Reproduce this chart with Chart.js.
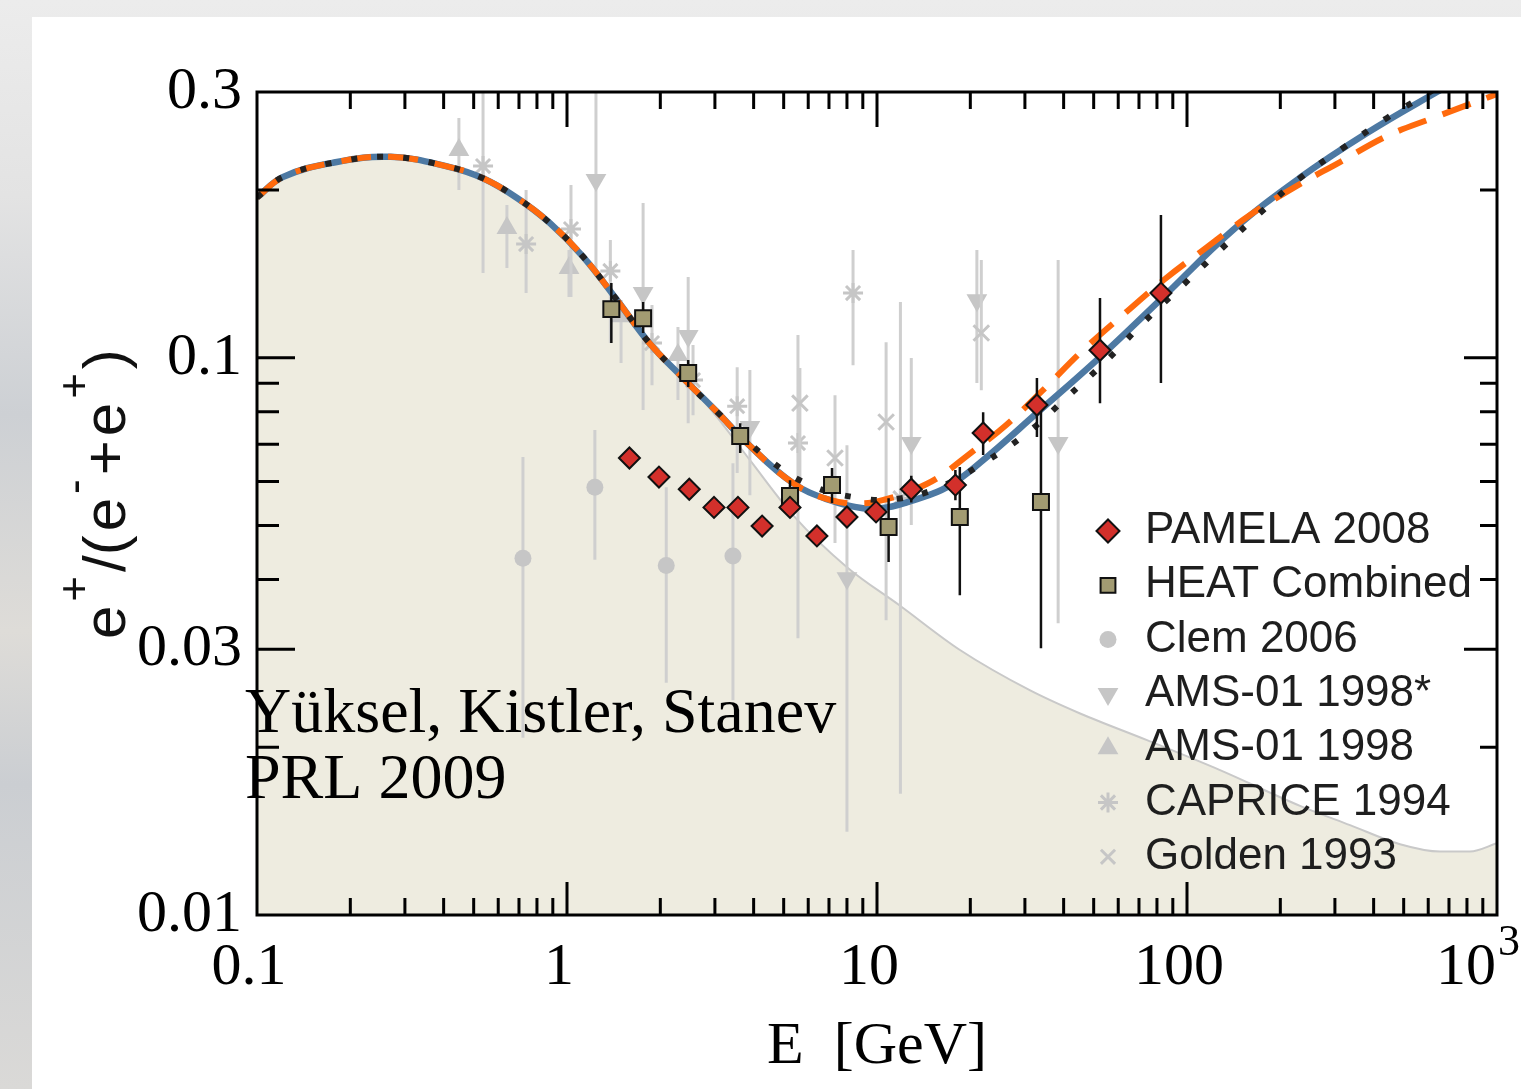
<!DOCTYPE html>
<html>
<head>
<meta charset="utf-8">
<title>Positron fraction</title>
<script src="https://cdn.jsdelivr.net/npm/chart.js@4/dist/chart.umd.min.js"></script>
<style>
  html, body { margin:0; padding:0; width:1521px; height:1089px; overflow:hidden; }
  body { position:relative; background: linear-gradient(180deg,#ececec 0%,#e3e3e3 18%,#cdd0d4 38%,#dedcd8 58%,#cbced2 72%,#dad9d7 100%); }
  #card { position:absolute; left:32px; top:17px; width:1489px; height:1072px; background:#fff; }
  #c { position:absolute; left:0; top:0; width:1521px; height:1089px; }
</style>
</head>
<body>
<div id="card"></div>
<canvas id="c" width="1521" height="1089"></canvas>
<script>
// ---------------- axis ticks ----------------
const xTickValues = [0.1, 1, 10, 100, 1000];
const xTickLabels = ['0.1', '1', '10', '100', ''];   // last one drawn as 10^3 below
const xLastBase = '10', xLastExp = '3';
const yTickValues = [0.01, 0.03, 0.1, 0.3];
const yTickLabels = ['0.01', '0.03', '0.1', '0.3'];
const yMajorMarks = [0.03, 0.1];
const yMinorMarks = [0.02, 0.04, 0.05, 0.06, 0.07, 0.08, 0.09, 0.2];

// ---------------- model curves ----------------
const blueE = [0.1, 0.121, 0.176, 0.27, 0.419, 0.536, 0.69, 0.881, 1.126, 1.45, 1.852, 2.367, 3.047, 3.807, 5.358, 7.053, 9.01, 10.77, 13.07, 16.82, 21.98, 32.8, 52.4, 81.8, 140.7, 231.5, 380.7, 640, 1000];
const blueR = [0.194, 0.211, 0.224, 0.2295, 0.220, 0.210, 0.1936, 0.1745, 0.152, 0.127, 0.106, 0.092, 0.080, 0.0703, 0.0596, 0.0555, 0.0537, 0.0539, 0.0555, 0.0586, 0.0655, 0.0796, 0.1003, 0.1269, 0.1696, 0.2105, 0.2532, 0.300, 0.345];

const orangeE = [0.1, 0.121, 0.176, 0.27, 0.419, 0.536, 0.69, 0.881, 1.126, 1.45, 1.852, 2.367, 3.047, 3.807, 5.358, 7.053, 9.01, 10.77, 12.78, 15.62, 19.66, 26.06, 34.3, 46.2, 63.1, 84.9, 116, 159.7, 219.8, 311.6, 441.8, 621.7, 1000];
const orangeR = [0.194, 0.211, 0.224, 0.2295, 0.220, 0.210, 0.1936, 0.1745, 0.152, 0.127, 0.106, 0.092, 0.080, 0.0703, 0.0596, 0.0556, 0.0548, 0.0558, 0.0576, 0.0608, 0.0669, 0.0757, 0.0875, 0.1032, 0.1203, 0.1385, 0.158, 0.1804, 0.2017, 0.2246, 0.2501, 0.2695, 0.2975];

const dotE = [0.1, 0.121, 0.176, 0.27, 0.419, 0.536, 0.69, 0.881, 1.126, 1.45, 1.852, 2.367, 3.047, 4.42, 6.08, 8.81, 11.5, 15.73, 21.98, 30.5, 41.0, 55.2, 72.1, 97.1, 127.8, 172, 231.5, 318.6, 441.8, 608, 1000];
const dotR = [0.194, 0.211, 0.224, 0.2295, 0.220, 0.210, 0.1936, 0.1745, 0.152, 0.127, 0.106, 0.092, 0.080, 0.0661, 0.0591, 0.056, 0.0558, 0.0584, 0.0647, 0.0733, 0.085, 0.0991, 0.1155, 0.1351, 0.1561, 0.1819, 0.2102, 0.238, 0.2695, 0.300, 0.357];

const bgE = [0.1, 0.121, 0.176, 0.27, 0.419, 0.536, 0.69, 0.881, 1.126, 1.45, 1.852, 2.367, 3.047, 3.893, 5.358, 8.0, 11.87, 18.52, 31.2, 45.2, 74.3, 127.8, 231.5, 335.7, 486.6, 654.9, 818, 1000];
const bgR = [0.194, 0.211, 0.224, 0.2295, 0.220, 0.210, 0.1936, 0.1745, 0.152, 0.127, 0.106, 0.092, 0.0783, 0.0655, 0.0522, 0.0421, 0.0359, 0.0299, 0.0253, 0.023, 0.0206, 0.0182, 0.0157, 0.0145, 0.0134, 0.013, 0.013, 0.01345];

// ---------------- measurements ----------------
const pamelaE  = [1.59, 1.98, 2.48, 2.98, 3.56, 4.26, 5.24, 6.40, 8.00, 9.93, 12.9, 17.9, 22.0, 32.8, 52.4, 82.4];
const pamelaR  = [0.0661, 0.0611, 0.0581, 0.0539, 0.0539, 0.0499, 0.0539, 0.0479, 0.0518, 0.0529, 0.0581, 0.0591, 0.0733, 0.0823, 0.1032, 0.1307];
const pamelaLo = [null, null, null, null, null, null, null, null, null, null, 0.0550, 0.0555, 0.0669, 0.0721, 0.0829, 0.0901];
const pamelaHi = [null, null, null, null, null, null, null, null, null, null, 0.0614, 0.0629, 0.0799, 0.0920, 0.1280, 0.1804];

const heatE  = [1.39, 1.76, 2.46, 3.62, 5.24, 7.16, 10.9, 18.5, 33.8];
const heatR  = [0.1223, 0.1178, 0.0939, 0.0724, 0.0565, 0.0591, 0.0497, 0.0518, 0.0551];
const heatLo = [0.1063, 0.1108, 0.0886, 0.0675, 0.0527, 0.0549, 0.0430, 0.0375, 0.0301];
const heatHi = [0.1363, 0.1259, 0.0991, 0.0763, 0.0603, 0.0634, 0.0560, 0.0637, 0.0806];

const clemE  = [0.721, 1.23, 2.09, 3.43];
const clemR  = [0.0437, 0.0586, 0.0424, 0.0441];
const clemLo = [0.0208, 0.0434, 0.0261, 0.0243];
const clemHi = [0.0664, 0.0742, 0.0586, 0.0647];

const amsStarE  = [1.24, 1.76, 2.46, 3.89, 8.00, 12.9, 21.0, 38.4];
const amsStarR  = [0.2085, 0.1307, 0.1094, 0.0751, 0.0402, 0.0703, 0.1269, 0.0703];
const amsStarLo = [0.142, 0.0806, 0.0763, 0.0567, 0.0141, 0.0501, 0.0901, 0.0334];
const amsStarHi = [0.300, 0.1896, 0.1397, 0.0951, 0.0697, 0.0999, 0.1561, 0.1498];

const amsE  = [0.448, 0.64, 1.015, 1.494, 2.28];
const amsR  = [0.2361, 0.171, 0.1449, 0.1188, 0.1012];
const amsLo = [0.200, 0.1449, 0.1286, 0.0979, 0.084];
const amsHi = [0.2694, 0.1881, 0.1561, 0.127, 0.1136];

const capE  = [0.536, 0.738, 1.03, 1.38, 1.88, 2.55, 3.54, 5.56, 8.37, 11.9];
const capR  = [0.2209, 0.160, 0.1703, 0.1432, 0.1063, 0.0912, 0.0819, 0.0703, 0.1307, 0.056];
const capLo = [0.142, 0.1307, 0.1286, 0.1063, 0.0893, 0.0789, 0.0621, 0.0314, 0.097, 0.0165];
const capHi = [0.2989, 0.200, 0.2042, 0.1627, 0.1244, 0.1054, 0.0962, 0.1099, 0.1561, 0.1259];

const golE  = [5.64, 7.32, 10.7, 21.7];
const golR  = [0.0829, 0.0661, 0.0767, 0.1108];
const golLo = [0.0603, 0.0465, 0.0338, 0.0875];
const golHi = [0.0959, 0.0857, 0.1067, 0.1498];

const seriesLabels = ['PAMELA 2008', 'HEAT Combined', 'Clem 2006', 'AMS-01 1998*', 'AMS-01 1998', 'CAPRICE 1994', 'Golden 1993'];
const yTitlePieces = ['e', '+', '/(', 'e', '-', '+', 'e', '+', ')'];
const yTitleSuper  = [false, true, false, false, true, false, false, true, false];
const noteLines = ['Y\u00FCksel, Kistler, Stanev', 'PRL 2009'];

// ---------------- helpers ----------------
const SERIF = '"Liberation Serif", "Times New Roman", serif';
const SANS = '"Liberation Sans", Arial, sans-serif';
const pts = (xs, ys) => xs.map((v, i) => ({ x: v, y: ys[i] }));
const GRAY = '#c6c6c6';
const GRAYBAR = '#cfcfcf';

function curve(label, xs, ys, color, width, dash, order, extra) {
  return Object.assign({
    label, data: pts(xs, ys), showLine: true, pointRadius: 0, borderColor: color,
    borderWidth: width, borderDash: dash, tension: 0.4, fill: false, order
  }, extra || {});
}
function marks(label, xs, ys, lo, hi, style, o) {
  return Object.assign({
    label, data: pts(xs, ys), showLine: false, pointStyle: style,
    errLo: lo, errHi: hi
  }, o);
}

const datasets = [
  curve('background', bgE, bgR, '#c9c9c9', 2, [], 20, { fill: 'start', backgroundColor: '#eeece0', cubicInterpolationMode: 'monotone' }),
  curve('model solid', blueE, blueR, '#4d79a3', 6.5, [], 12),
  curve('model dashed', orangeE, orangeR, '#ff6a0d', 6, [30, 17], 11),
  curve('model dotted', dotE, dotR, '#222222', 6, [6, 20], 10),
  marks(seriesLabels[6], golE, golR, golLo, golHi, 'crossRot', { order: 13, pointRadius: 11, pointBorderWidth: 3, pointBorderColor: GRAY, pointBackgroundColor: GRAY, errColor: GRAYBAR, errWidth: 3, legendRow: 6, legendRadius: 10 }),
  marks(seriesLabels[5], capE, capR, capLo, capHi, 'star', { order: 14, pointRadius: 10, pointBorderWidth: 3, pointBorderColor: GRAY, pointBackgroundColor: GRAY, errColor: GRAYBAR, errWidth: 3, legendRow: 5, legendRadius: 10 }),
  marks(seriesLabels[4], amsE, amsR, amsLo, amsHi, 'triangle', { order: 15, pointRadius: 12, pointBorderWidth: 0, pointBorderColor: GRAY, pointBackgroundColor: GRAY, errColor: GRAYBAR, errWidth: 3, legendRow: 4, legendRadius: 12 }),
  marks(seriesLabels[3], amsStarE, amsStarR, amsStarLo, amsStarHi, 'triangle', { order: 16, pointRadius: 12, pointRotation: 180, pointBorderWidth: 0, pointBorderColor: GRAY, pointBackgroundColor: GRAY, errColor: GRAYBAR, errWidth: 3, legendRow: 3, legendRadius: 12, legendRotation: 180 }),
  marks(seriesLabels[2], clemE, clemR, clemLo, clemHi, 'circle', { order: 17, pointRadius: 8.5, pointBorderWidth: 0, pointBorderColor: GRAY, pointBackgroundColor: GRAY, errColor: GRAYBAR, errWidth: 3, legendRow: 2, legendRadius: 8.5 }),
  marks(seriesLabels[1], heatE, heatR, heatLo, heatHi, 'rect', { order: 1, pointRadius: 11.3, pointBorderWidth: 2, pointBorderColor: '#111', pointBackgroundColor: '#a29b72', errColor: '#111', errWidth: 2.5, legendRow: 1, legendRadius: 10.5 }),
  marks(seriesLabels[0], pamelaE, pamelaR, pamelaLo, pamelaHi, 'rectRot', { order: 0, pointRadius: 10.5, pointBorderWidth: 2, pointBorderColor: '#111', pointBackgroundColor: '#d3302b', errColor: '#111', errWidth: 2.5, legendRow: 0, legendRadius: 11.5 })
];

// ---------------- plugins ----------------
const errorBars = {
  id: 'errorBars',
  beforeDatasetDraw(chart, args) {
    const ds = chart.data.datasets[args.index];
    if (!ds.errLo) return;
    const { ctx, chartArea: a, scales: { x, y } } = chart;
    ctx.save();
    ctx.beginPath();
    ctx.rect(a.left, a.top, a.right - a.left, a.bottom - a.top);
    ctx.clip();
    ctx.strokeStyle = ds.errColor;
    ctx.lineWidth = ds.errWidth;
    ctx.beginPath();
    ds.data.forEach((p, i) => {
      const lo = ds.errLo[i], hi = ds.errHi[i];
      if (lo == null || hi == null) return;
      const px = x.getPixelForValue(p.x);
      ctx.moveTo(px, y.getPixelForValue(lo));
      ctx.lineTo(px, y.getPixelForValue(hi));
    });
    ctx.stroke();
    ctx.restore();
  }
};

const frame = {
  id: 'frame',
  afterDatasetsDraw(chart) {
    const { ctx, chartArea: a, scales: { x, y } } = chart;
    ctx.save();
    ctx.strokeStyle = '#000';
    ctx.lineWidth = 3;
    ctx.beginPath();
    const xMajor = [1, 10, 100];
    const xMinor = [];
    [0.1, 1, 10, 100].forEach(d => { for (let m = 2; m <= 9; m++) xMinor.push(d * m); });
    xMajor.forEach(v => {
      const p = x.getPixelForValue(v);
      ctx.moveTo(p, a.bottom); ctx.lineTo(p, a.bottom - 33);
      ctx.moveTo(p, a.top); ctx.lineTo(p, a.top + 35);
    });
    xMinor.forEach(v => {
      const p = x.getPixelForValue(v);
      ctx.moveTo(p, a.bottom); ctx.lineTo(p, a.bottom - 17);
      ctx.moveTo(p, a.top); ctx.lineTo(p, a.top + 17);
    });
    yMajorMarks.forEach(v => {
      const p = y.getPixelForValue(v);
      ctx.moveTo(a.left, p); ctx.lineTo(a.left + 38, p);
      ctx.moveTo(a.right, p); ctx.lineTo(a.right - 33, p);
    });
    yMinorMarks.forEach(v => {
      const p = y.getPixelForValue(v);
      ctx.moveTo(a.left, p); ctx.lineTo(a.left + 22, p);
      ctx.moveTo(a.right, p); ctx.lineTo(a.right - 17, p);
    });
    ctx.stroke();
    ctx.strokeRect(a.left, a.top, a.right - a.left, a.bottom - a.top);
    ctx.restore();
  }
};

const decorations = {
  id: 'decorations',
  afterDraw(chart) {
    const { ctx, chartArea: a, scales: { x } } = chart;

    // last x tick label: 10^3
    ctx.save();
    ctx.fillStyle = '#000';
    const px = x.getPixelForValue(xTickValues[xTickValues.length - 1]);
    ctx.font = '60px ' + SERIF;
    ctx.textAlign = 'right';
    ctx.textBaseline = 'middle';
    ctx.fillText(xLastBase, px - 1, a.bottom + 17 + 36);
    ctx.font = '44px ' + SERIF;
    ctx.textAlign = 'left';
    ctx.textBaseline = 'alphabetic';
    ctx.fillText(xLastExp, px + 1, 955);
    ctx.restore();

    // note
    ctx.save();
    ctx.fillStyle = '#000';
    ctx.font = '64px ' + SERIF;
    ctx.textBaseline = 'alphabetic';
    ctx.textAlign = 'left';
    ctx.fillText(noteLines[0], 245, 732);
    ctx.fillText(noteLines[1], 245, 798);
    ctx.restore();

    // y axis title (rotated, with superscripts)
    ctx.save();
    ctx.translate(125, 639);
    ctx.rotate(-Math.PI / 2);
    ctx.fillStyle = '#111';
    ctx.textBaseline = 'alphabetic';
    ctx.textAlign = 'left';
    let pos = 0;
    yTitlePieces.forEach((t, i) => {
      const sup = yTitleSuper[i];
      ctx.font = (sup ? '44px ' : '60px ') + SANS;
      ctx.fillText(t, pos, sup ? -36 : 0);
      pos += ctx.measureText(t).width + 4;
    });
    ctx.restore();

    // legend
    const rowY0 = 531, rowDy = 54.3, markX = 1108, textX = 1145;
    ctx.save();
    chart.data.datasets.filter(d => d.legendRow != null).forEach(d => {
      const yy = rowY0 + d.legendRow * rowDy;
      ctx.fillStyle = d.pointBackgroundColor;
      ctx.strokeStyle = d.pointBorderColor;
      ctx.lineWidth = d.pointBorderWidth;
      Chart.helpers.drawPoint(ctx, {
        pointStyle: d.pointStyle, rotation: d.legendRotation || 0,
        radius: d.legendRadius, borderWidth: d.pointBorderWidth
      }, markX, yy);
      ctx.fillStyle = '#1e1e1e';
      ctx.font = '44px ' + SANS;
      ctx.textBaseline = 'middle';
      ctx.textAlign = 'left';
      ctx.fillText(d.label, textX, yy);
    });
    ctx.restore();
  }
};

// ---------------- chart ----------------
new Chart(document.getElementById('c').getContext('2d'), {
  type: 'scatter',
  data: { datasets },
  options: {
    responsive: false,
    animation: false,
    devicePixelRatio: 1,
    layout: { padding: { top: 92, right: 24, left: 0, bottom: 0 }, autoPadding: false },
    plugins: { legend: { display: false }, tooltip: { enabled: false } },
    scales: {
      x: {
        type: 'logarithmic', min: 0.1, max: 1000, position: 'bottom',
        afterBuildTicks: s => { s.ticks = xTickValues.map(v => ({ value: v })); },
        afterFit: s => { s.height = 174; s.paddingLeft = 0; s.paddingRight = 0; },
        grid: { display: false, drawTicks: false },
        border: { display: false },
        ticks: {
          autoSkip: false, maxRotation: 0, minRotation: 0, padding: 17, labelOffset: -8,
          color: '#000', font: { family: SERIF, size: 60 },
          callback: (v, i) => xTickLabels[i]
        },
        title: {
          display: true, text: 'E  [GeV]', color: '#000',
          font: { family: SERIF, size: 60 },
          padding: { top: 0, bottom: 6 }
        }
      },
      y: {
        type: 'logarithmic', min: 0.01, max: 0.3, position: 'left',
        afterBuildTicks: s => { s.ticks = yTickValues.map(v => ({ value: v })); },
        afterFit: s => { s.width = 257; s.paddingTop = 0; s.paddingBottom = 0; },
        grid: { display: false, drawTicks: false },
        border: { display: false },
        ticks: {
          autoSkip: false, padding: 15, crossAlign: 'near',
          color: '#000', font: { family: SERIF, size: 60 },
          callback: (v, i) => yTickLabels[i]
        }
      }
    }
  },
  plugins: [errorBars, frame, decorations]
});
</script>
</body>
</html>
